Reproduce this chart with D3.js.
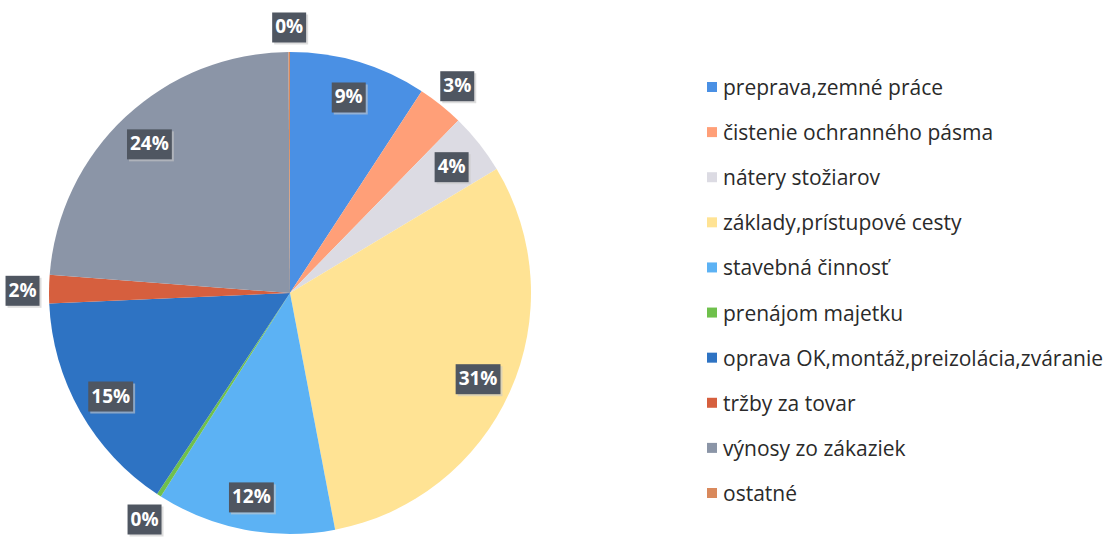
<!DOCTYPE html>
<html lang="sk">
<head>
<meta charset="UTF-8">
<title>Výnosy</title>
<style>
    body { margin: 0; background: #ffffff; }
    svg { display: block; }
    .legend text { font-family: 'Open Sans', sans-serif; font-size: 21px; fill: #2a2a2a; }
    .lbl text { font-family: 'Open Sans', sans-serif; font-size: 19px; font-weight: 700; fill: #ffffff; }
</style>
</head>
<body>
<svg id="chart" width="1108" height="537"></svg>
<script src="https://d3js.org/d3.v7.min.js"></script>
<script>
// categories and shares (%)
const categories = [
    'preprava,zemné práce',
    'čistenie ochranného pásma',
    'nátery stožiarov',
    'základy,prístupové cesty',
    'stavebná činnosť',
    'prenájom majetku',
    'oprava OK,montáž,preizolácia,zváranie',
    'tržby za tovar',
    'výnosy zo zákaziek',
    'ostatné'
];
const shares = [9.2, 3.1, 4.1, 30.6, 12.0, 0.3, 15.0, 1.9, 23.7, 0.1];
const colors = ['#4a90e4', '#ff9f78', '#dcdbe3', '#ffe394', '#5cb2f4',
                '#6fc04c', '#2e73c3', '#d65f3e', '#8b95a7', '#d9895c'];

const svg = d3.select('#chart');
const cx = 290, cy = 293, r = 241;

const pie = d3.pie().sort(null).value(d => d.v);
const arcs = pie(categories.map((c, i) => ({ name: c, v: shares[i], color: colors[i] })));

const arc = d3.arc().innerRadius(0).outerRadius(r);
const inLabel = d3.arc().innerRadius(r * 0.855).outerRadius(r * 0.855);
const outLabel = d3.arc().innerRadius(r * 1.11).outerRadius(r * 1.11);

const g = svg.append('g').attr('transform', `translate(${cx},${cy})`);

g.selectAll('path.slice')
    .data(arcs)
    .enter()
    .append('path')
    .attr('class', 'slice')
    .attr('d', arc)
    .attr('fill', d => d.data.color);

// data labels in dark boxes
const fmt = v => Math.round(v) + '%';
const lbl = g.selectAll('g.lbl')
    .data(arcs)
    .enter()
    .append('g')
    .attr('class', 'lbl')
    .attr('transform', d => {
        const p = (d.data.v < 3.5 ? outLabel : inLabel).centroid(d);
        return `translate(${p[0]},${p[1]})`;
    });

lbl.append('text')
    .attr('text-anchor', 'middle')
    .attr('dominant-baseline', 'central')
    .attr('y', 1)
    .text(d => fmt(d.data.v));

lbl.each(function() {
    const t = d3.select(this).select('text');
    const b = t.node().getBBox();
    d3.select(this).insert('rect', 'text')
        .attr('x', b.x - 3 + 2).attr('y', b.y - 1 + 2)
        .attr('width', b.width + 6).attr('height', b.height + 4)
        .attr('fill', '#c8c8c8').attr('opacity', 0.6);
    d3.select(this).insert('rect', 'text')
        .attr('x', b.x - 3).attr('y', b.y - 1)
        .attr('width', b.width + 6).attr('height', b.height + 4)
        .attr('fill', '#4f5661');
});

// legend
const legend = svg.append('g').attr('class', 'legend');
const ly = d3.scalePoint().domain(categories).range([87, 493]);

const item = legend.selectAll('g')
    .data(categories)
    .enter()
    .append('g')
    .attr('transform', d => `translate(707,${ly(d)})`);

item.append('rect')
    .attr('x', 0).attr('y', -5)
    .attr('width', 10).attr('height', 10)
    .attr('fill', (d, i) => colors[i]);

item.append('text')
    .attr('x', 16)
    .attr('dominant-baseline', 'central')
    .text(d => d);
</script>
</body>
</html>
